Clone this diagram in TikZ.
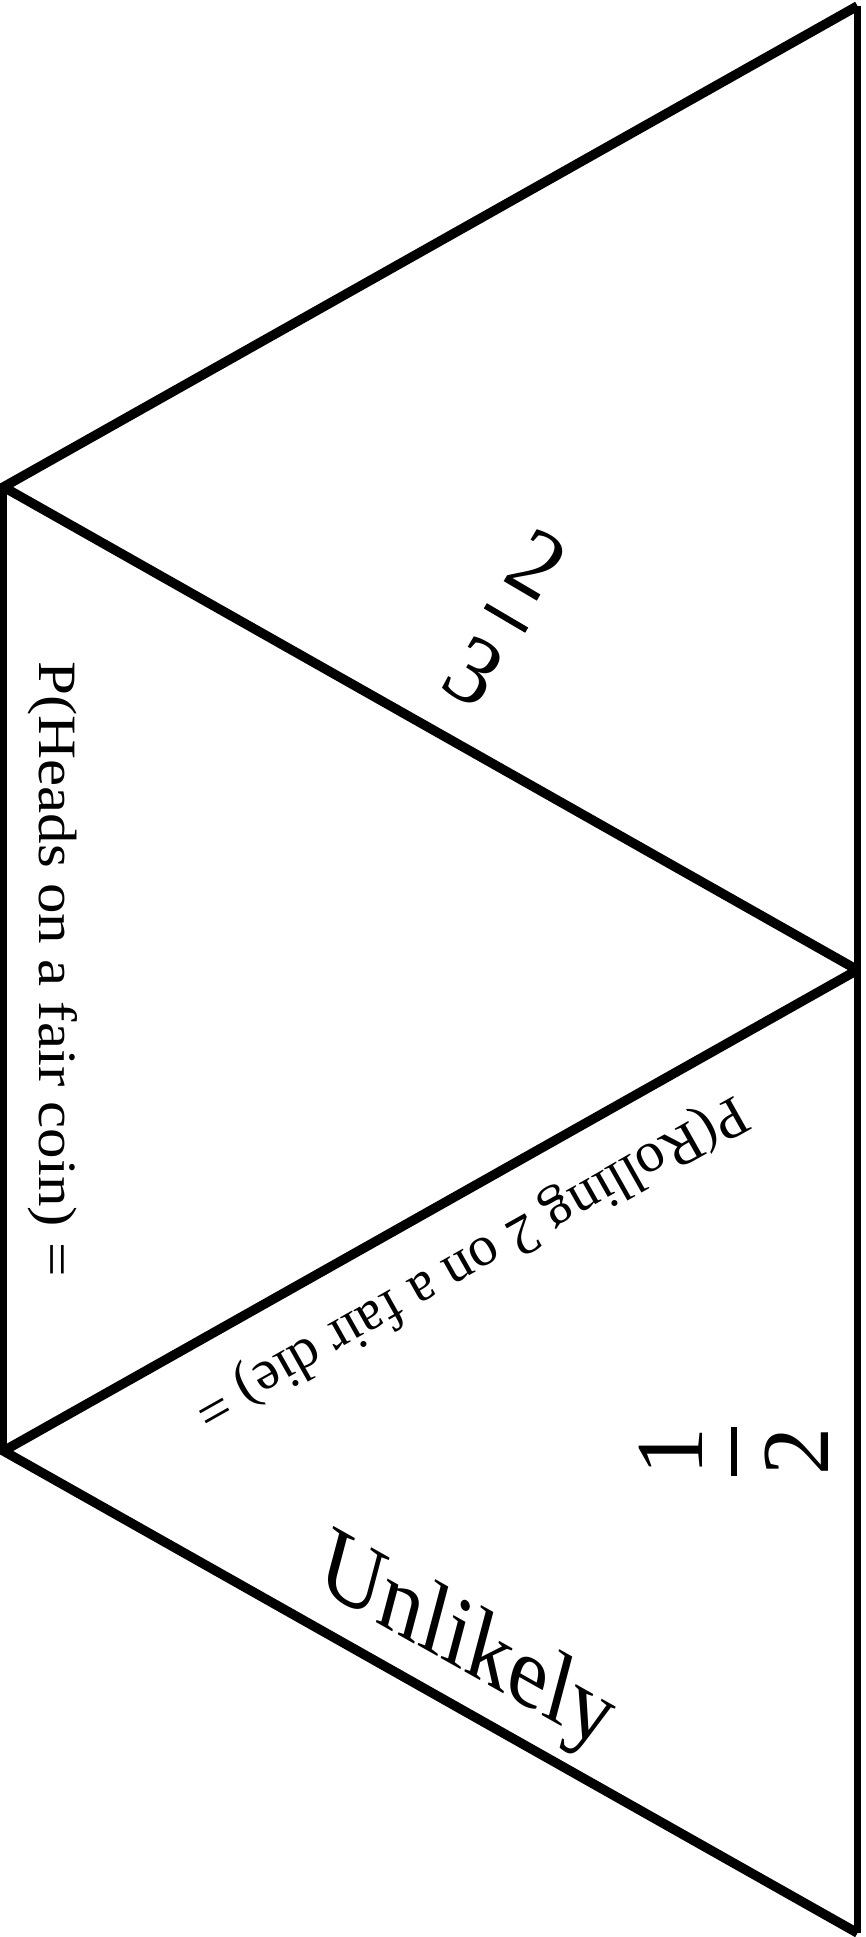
\documentclass[tikz,border=0pt]{standalone}
\usepackage{fontspec}
\setmainfont{Liberation Serif}
\usepackage{graphicx}
\begin{document}
\begin{tikzpicture}[x=1pt,y=1pt,
  diag/.style={line width=9.5pt, line join=miter},
  vert/.style={line width=6.5pt},
  lbl/.style={inner sep=0pt, outer sep=0pt},
  digit/.style={inner sep=0pt, outer sep=0pt, transform shape, font=\fontsize{96}{100}\selectfont},
  fracbar/.style={line width=6pt}]
\useasboundingbox (0,0) rectangle (865,1937);
\coordinate (TR) at (857.5,1931);
\coordinate (L1) at (3.5,1450);
\coordinate (R1) at (857.5,967);
\coordinate (L2) at (3.5,486);
\coordinate (BR) at (857.5,4);
% outline
\draw[vert] (TR) -- (BR);
\draw[vert] (L1) -- (L2);
\draw[diag] (TR) -- (L1) -- (R1);
\draw[diag] (R1) -- (L2) -- (BR);
% texts
\node[lbl, rotate=-90, anchor=base] (heads) at (39,968)
  {\fontsize{54}{58}\selectfont\scalebox{1.13}[1]{P(Heads on a fair coin) =}};
\node[lbl, rotate=-150.6] (roll) at (470,676)
  {\fontsize{57}{61}\selectfont\scalebox{1.01}[1]{P(Rolling 2 on a fair die) =}};
\node[lbl, rotate=-29.4, xslant=-0.26, anchor=base] (unlikely) at (460,268)
  {\fontsize{95}{100}\selectfont Unlikely};
% fraction 2/3
\begin{scope}[shift={(506,1319)}, rotate=-30.5]
  \node[digit] (twoA) at (0,62) {2};
  \coordinate (barAl) at (-24,0);
  \coordinate (barAr) at (24,0);
  \draw[fracbar] (barAl) -- (barAr);
  \node[digit] (threeA) at (0,-62) {3};
\end{scope}
% fraction 1/2
\begin{scope}[shift={(734,485)}, rotate=90]
  \node[digit] (oneB) at (0,63) {1};
  \coordinate (barBl) at (-24.5,0);
  \coordinate (barBr) at (24.5,0);
  \draw[fracbar] (barBl) -- (barBr);
  \node[digit] (twoB) at (0,-63) {2};
\end{scope}
\end{tikzpicture}
\end{document}
